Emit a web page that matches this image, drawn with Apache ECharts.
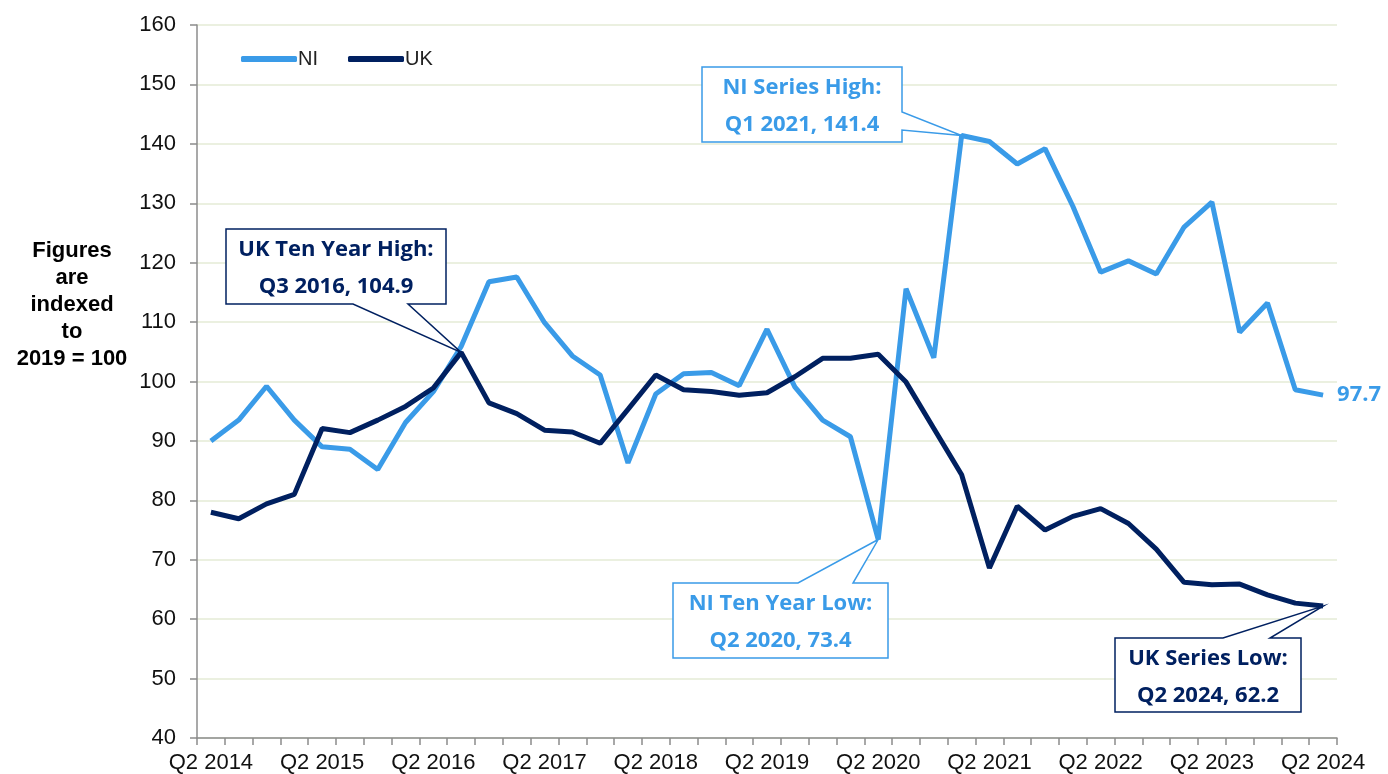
<!DOCTYPE html>
<html>
<head>
<meta charset="utf-8">
<title>NI vs UK index</title>
<script src="https://cdn.jsdelivr.net/npm/echarts@6/dist/echarts.min.js"></script>
<style>
    html, body { margin: 0; padding: 0; background: #fff; }
    #echart1 { width: 1388px; height: 774px; }
</style>
</head>
<body>
<div id="echart1"></div>
<script>
// quarters Q2 2014 .. Q2 2024
var quarters = [
    'Q2 2014', 'Q3 2014', 'Q4 2014', 'Q1 2015', 'Q2 2015', 'Q3 2015', 'Q4 2015', 'Q1 2016',
    'Q2 2016', 'Q3 2016', 'Q4 2016', 'Q1 2017', 'Q2 2017', 'Q3 2017', 'Q4 2017', 'Q1 2018',
    'Q2 2018', 'Q3 2018', 'Q4 2018', 'Q1 2019', 'Q2 2019', 'Q3 2019', 'Q4 2019', 'Q1 2020',
    'Q2 2020', 'Q3 2020', 'Q4 2020', 'Q1 2021', 'Q2 2021', 'Q3 2021', 'Q4 2021', 'Q1 2022',
    'Q2 2022', 'Q3 2022', 'Q4 2022', 'Q1 2023', 'Q2 2023', 'Q3 2023', 'Q4 2023', 'Q1 2024',
    'Q2 2024'
];
var niValues = [
    90.0, 93.5, 99.2, 93.5, 89.0, 88.6, 85.2, 93.1, 98.3, 105.9,
    116.8, 117.6, 109.9, 104.3, 101.1, 86.3, 97.9, 101.3, 101.5, 99.3,
    108.8, 99.1, 93.5, 90.7, 73.4, 115.6, 104.0, 141.4, 140.4, 136.6,
    139.2, 129.5, 118.4, 120.3, 118.1, 126.0, 130.2, 108.3, 113.2, 98.6,
    97.7
];
var ukValues = [
    78.0, 76.9, 79.4, 81.0, 92.1, 91.4, 93.5, 95.8, 98.9, 104.9,
    96.4, 94.6, 91.8, 91.5, 89.6, 95.3, 101.1, 98.6, 98.3, 97.7,
    98.1, 100.8, 103.9, 103.9, 104.6, 99.9, 92.1, 84.3, 68.6, 79.0,
    75.0, 77.3, 78.6, 76.1, 71.8, 66.2, 65.8, 65.9, 64.1, 62.7,
    62.2
];
var yTicks = { min: 40, max: 160, step: 10 };

var NI_COLOR = '#3a9be8';
var UK_COLOR = '#002060';
var AXIS_FONT = '"Liberation Sans", Arial, sans-serif';
var NOTE_FONT = '"Open Sans", sans-serif';

// callouts: which point they point at, box and where the wedge leaves the box
var notes = [
    { text: 'UK Ten Year High:\nQ3 2016, 104.9', series: 1, index: 9, color: UK_COLOR,
      box: [226, 229, 446, 304], side: 'bottom', a: 353, b: 408 },
    { text: 'NI Series High:\nQ1 2021, 141.4', series: 0, index: 27, color: NI_COLOR,
      box: [702, 67, 902, 142], side: 'right', a: 112, b: 130 },
    { text: 'NI Ten Year Low:\nQ2 2020, 73.4', series: 0, index: 24, color: NI_COLOR,
      box: [673, 583, 888, 658], side: 'top', a: 798, b: 853 },
    { text: 'UK Series Low:\nQ2 2024, 62.2', series: 1, index: 40, color: UK_COLOR,
      box: [1115, 638, 1301, 712], side: 'top', a: 1223, b: 1270 }
];

function echarts_1() {
    var myChart = echarts.init(document.getElementById('echart1'));

    var option = {
        animation: false,
        backgroundColor: '#fff',
        grid: {
            left: 197,
            right: 51,
            top: 25,
            bottom: 36,
            containLabel: false
        },
        legend: {
            data: ['NI', 'UK'],
            left: 236,
            top: 44,
            icon: 'roundRect',
            itemWidth: 56,
            itemHeight: 6,
            itemGap: 30,
            textStyle: {
                color: '#222',
                fontSize: 20,
                fontFamily: AXIS_FONT,
                padding: [0, 0, 0, -4]
            }
        },
        xAxis: [{
            type: 'category',
            data: quarters,
            boundaryGap: true,
            axisLine: {
                show: true,
                lineStyle: { color: '#8c8c8c', width: 1.5 }
            },
            axisTick: {
                show: true,
                interval: 0,
                length: 7,
                lineStyle: { color: '#8c8c8c', width: 1.5 }
            },
            axisLabel: {
                interval: 3,
                margin: 14,
                color: '#111',
                fontSize: 22,
                fontFamily: AXIS_FONT
            },
            splitLine: { show: false }
        }],
        yAxis: [{
            type: 'value',
            min: yTicks.min,
            max: yTicks.max,
            interval: yTicks.step,
            axisLine: {
                show: true,
                lineStyle: { color: '#8c8c8c', width: 1.5 }
            },
            axisTick: {
                show: true,
                length: 7,
                lineStyle: { color: '#8c8c8c', width: 1.5 }
            },
            axisLabel: {
                margin: 21,
                color: '#111',
                fontSize: 22,
                fontFamily: AXIS_FONT
            },
            splitLine: {
                lineStyle: { color: '#e4ebd6', width: 1.5 }
            }
        }],
        series: [
            {
                name: 'NI',
                type: 'line',
                data: niValues,
                symbol: 'none',
                color: NI_COLOR,
                lineStyle: { width: 5, color: NI_COLOR },
                endLabel: {
                    show: true,
                    distance: 14,
                    color: NI_COLOR,
                    fontSize: 22,
                    fontWeight: 'bold',
                    fontFamily: NOTE_FONT,
                    formatter: function (p) { return p.value.toFixed(1); }
                }
            },
            {
                name: 'UK',
                type: 'line',
                data: ukValues,
                symbol: 'none',
                color: UK_COLOR,
                lineStyle: { width: 5, color: UK_COLOR }
            }
        ]
    };

    myChart.setOption(option);

    // side caption + callout boxes, tips taken from the chart's own scales
    var graphics = [{
        type: 'text',
        x: 72,
        y: 305,
        style: {
            text: 'Figures\nare\nindexed\nto\n2019 = 100',
            font: 'bold 22px ' + AXIS_FONT,
            fill: '#000',
            align: 'center',
            verticalAlign: 'middle',
            textAlign: 'center',
            textVerticalAlign: 'middle',
            lineHeight: 27
        }
    }];

    notes.forEach(function (n) {
        var values = n.series === 0 ? niValues : ukValues;
        var tip = myChart.convertToPixel({ gridIndex: 0 }, [quarters[n.index], values[n.index]]);
        var x1 = n.box[0], y1 = n.box[1], x2 = n.box[2], y2 = n.box[3];
        var pts;
        if (n.side === 'bottom') {
            pts = [[x1, y1], [x2, y1], [x2, y2], [n.b, y2], tip, [n.a, y2], [x1, y2]];
        } else if (n.side === 'top') {
            pts = [[x1, y1], [n.a, y1], tip, [n.b, y1], [x2, y1], [x2, y2], [x1, y2]];
        } else {
            pts = [[x1, y1], [x2, y1], [x2, n.a], tip, [x2, n.b], [x2, y2], [x1, y2]];
        }
        graphics.push({
            type: 'polygon',
            shape: { points: pts },
            style: { fill: '#fff', stroke: n.color, lineWidth: 1.5 },
            z: 100
        });
        graphics.push({
            type: 'text',
            x: (x1 + x2) / 2,
            y: (y1 + y2) / 2 + 2,
            z: 101,
            style: {
                text: n.text,
                font: 'bold 22px ' + NOTE_FONT,
                fill: n.color,
                align: 'center',
                verticalAlign: 'middle',
                textAlign: 'center',
                textVerticalAlign: 'middle',
                lineHeight: 37
            }
        });
    });

    myChart.setOption({ graphic: graphics });

    window.addEventListener("resize", function () {
        myChart.resize();
    });
}

echarts_1();
</script>
</body>
</html>
